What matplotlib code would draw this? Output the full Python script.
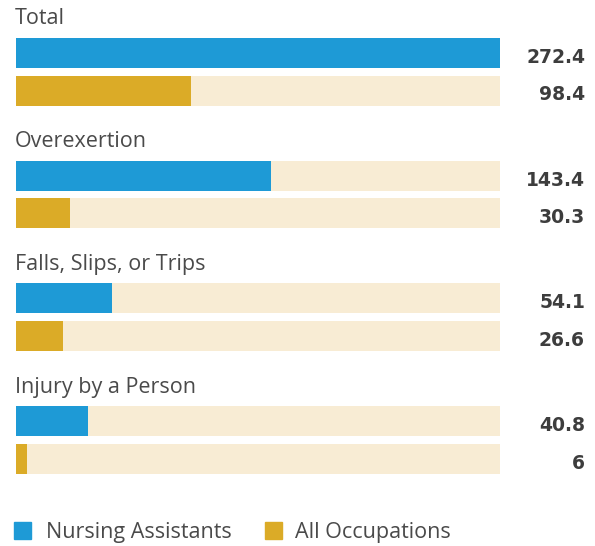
import matplotlib.pyplot as plt
from matplotlib.patches import Rectangle

categories = ["Total", "Overexertion", "Falls, Slips, or Trips", "Injury by a Person"]
nursing = [272.4, 143.4, 54.1, 40.8]
all_occ = [98.4, 30.3, 26.6, 6]
value_labels_na = ["272.4", "143.4", "54.1", "40.8"]
value_labels_all = ["98.4", "30.3", "26.6", "6"]
series_names = ["Nursing Assistants", "All Occupations"]

BLUE = "#1e9ad6"
GOLD = "#dbab27"
TRACK = "#f8ecd4"
TEXT = "#4a4a4a"
VALUE = "#3d3d3d"

plt.rcParams['font.family'] = ['Open Sans', 'DejaVu Sans']

W, H = 595, 546
fig = plt.figure(figsize=(W / 100, H / 100), dpi=100)
# axes spans the bar track horizontally, full height in pixel units
ax = fig.add_axes([16 / W, 0, 484 / W, 1])
ax.set_xlim(0, max(nursing))
ax.set_ylim(H, 0)
ax.axis("off")

step = 122.7
bar_h = 30
xfrac = ax.get_yaxis_transform()
for i, cat in enumerate(categories):
    top = 38 + step * i
    y_na = top + bar_h / 2
    y_all = y_na + 37.5
    ax.text(-1 / 484, top - 13.5, cat, transform=xfrac, fontsize=15.5,
            color=TEXT, va="baseline", ha="left")
    for y, v, c, lab in [(y_na, nursing[i], BLUE, value_labels_na[i]),
                         (y_all, all_occ[i], GOLD, value_labels_all[i])]:
        ax.barh(y, max(nursing), height=bar_h, color=TRACK)
        ax.barh(y, v, height=bar_h, color=c)
        ax.text((585 - 16) / 484, y + 10, lab, transform=xfrac, family=['DejaVu Sans'],
                ha="right", va="baseline", fontsize=13.5, fontweight="bold", color=VALUE)

# legend
for sx, tx, c, name in [(14, 46, BLUE, series_names[0]), (265, 295, GOLD, series_names[1])]:
    fig.patches.append(Rectangle((sx / W, 1 - 539 / H), 17 / W, 17 / H,
                                 transform=fig.transFigure, color=c))
    fig.text(tx / W, 1 - 538 / H, name, fontsize=15.5, color=TEXT, va="baseline")

fig.savefig("out.png", dpi=100)
